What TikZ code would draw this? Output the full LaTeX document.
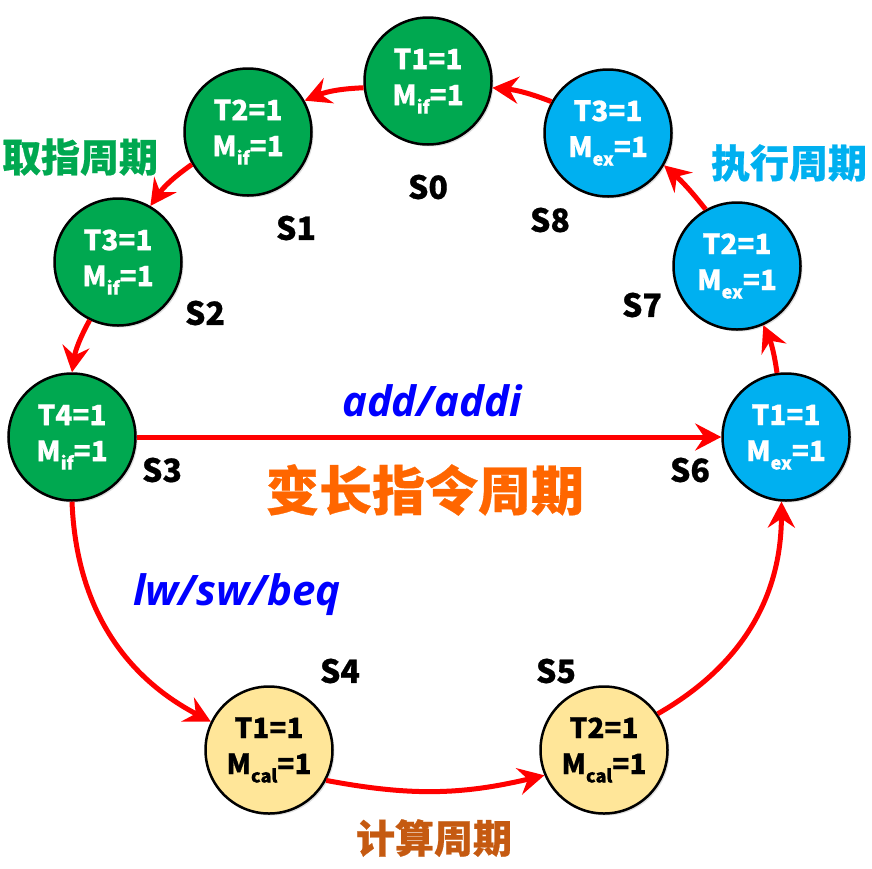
\documentclass[tikz,border=0pt]{standalone}
\usepackage{fontspec}
\setmainfont{Noto Sans CJK SC}[BoldFeatures={FakeBold=0.6}]
\newfontfamily\latinit{Open Sans}
\usetikzlibrary{arrows.meta,shadows}
\definecolor{ifgreen}{RGB}{0,168,80}
\definecolor{exblue}{RGB}{0,176,240}
\definecolor{calyellow}{RGB}{255,230,153}
\definecolor{varorange}{RGB}{255,102,0}
\definecolor{calbrown}{RGB}{197,90,17}
\definecolor{instblue}{RGB}{0,0,255}
\newcommand{\lowsub}[1]{\raisebox{-0.3em}{\fontsize{18}{18}\selectfont #1}}

\begin{document}
\begin{tikzpicture}[x=1pt,y=-1pt,
    state/.style={circle,draw=black,line width=2.5pt,minimum size=127pt,inner sep=0pt,
        align=center,font=\fontsize{28}{36}\selectfont\bfseries,
        drop shadow={opacity=0.25,shadow xshift=2pt,shadow yshift=-2pt}},
    ifstate/.style={state,fill=ifgreen,text=white},
    exstate/.style={state,fill=exblue,text=white},
    calstate/.style={state,fill=calyellow,text=black},
    tag/.style={font=\fontsize{32}{32}\selectfont\bfseries},
    flow/.style={-{Stealth[length=26pt,width=27pt,inset=9pt]},red,line width=5pt},
    cycle/.style={font=\fontsize{39}{39}\selectfont\bfseries},
    inst/.style={font=\latinit\fontsize{42}{42}\selectfont\bfseries\itshape,text=instblue}]
    \useasboundingbox (0,0) rectangle (872,868);
    % fetch cycle
    \node[ifstate] (s0) at (428,81) {T1=1\\M\lowsub{if}=1};
    \node[ifstate] (s1) at (248,132) {T2=1\\M\lowsub{if}=1};
    \node[ifstate] (s2) at (118,262) {T3=1\\M\lowsub{if}=1};
    \node[ifstate] (s3) at (72,437) {T4=1\\M\lowsub{if}=1};
    % calc cycle
    \node[calstate] (s4) at (269,750) {T1=1\\M\lowsub{cal}=1};
    \node[calstate] (s5) at (604,750) {T2=1\\M\lowsub{cal}=1};
    % exec cycle
    \node[exstate] (s6) at (786,437) {T1=1\\M\lowsub{ex}=1};
    \node[exstate] (s7) at (737,266) {T2=1\\M\lowsub{ex}=1};
    \node[exstate] (s8) at (608,133) {T3=1\\M\lowsub{ex}=1};
    % state names
    \node[tag] (n0) at (428,187) {S0};
    \node[tag] (n1) at (296,228) {S1};
    \node[tag] (n2) at (205,313) {S2};
    \node[tag] (n3) at (162,470) {S3};
    \node[tag] (n4) at (340,671) {S4};
    \node[tag] (n5) at (556,671) {S5};
    \node[tag] (n6) at (690,470) {S6};
    \node[tag] (n7) at (642,305) {S7};
    \node[tag] (n8) at (550,220) {S8};
    % transitions
    \draw[flow] (s0.186) to[bend right=10] (s1.29);
    \draw[flow] (s1.210) to[bend right=10] (s2.60);
    \draw[flow] (s2.244) to[bend right=10] (s3.90);
    \draw[flow] (s3.east) -- (s6.west);
    \draw[flow] (s3.270) to[bend right=30] (s4.154);
    \draw[flow] (s4.-28) to[bend right=12] (s5.203);
    \draw[flow] (s5.34) to[bend right=30] (s6.266);
    \draw[flow] (s6.98) to[bend right=8] (s7.-66);
    \draw[flow] (s7.119) to[bend right=5] (s8.-30);
    \draw[flow] (s8.151) to[bend right=8] (s0.-6);
    % cycle names
    \node[cycle,text=ifgreen] (fetch) at (80,157) {取指周期};
    \node[cycle,text=exblue] (exec) at (789,163) {执行周期};
    \node[cycle,text=calbrown] (calc) at (434,838) {计算周期};
    \node[font=\fontsize{53}{53}\selectfont\bfseries,text=varorange] (var) at (425,490) {变长指令周期};
    \node[inst] (add) at (432,401) {add/addi};
    \node[inst] (lw) at (237,595) {lw/sw/beq};
\end{tikzpicture}
\end{document}
